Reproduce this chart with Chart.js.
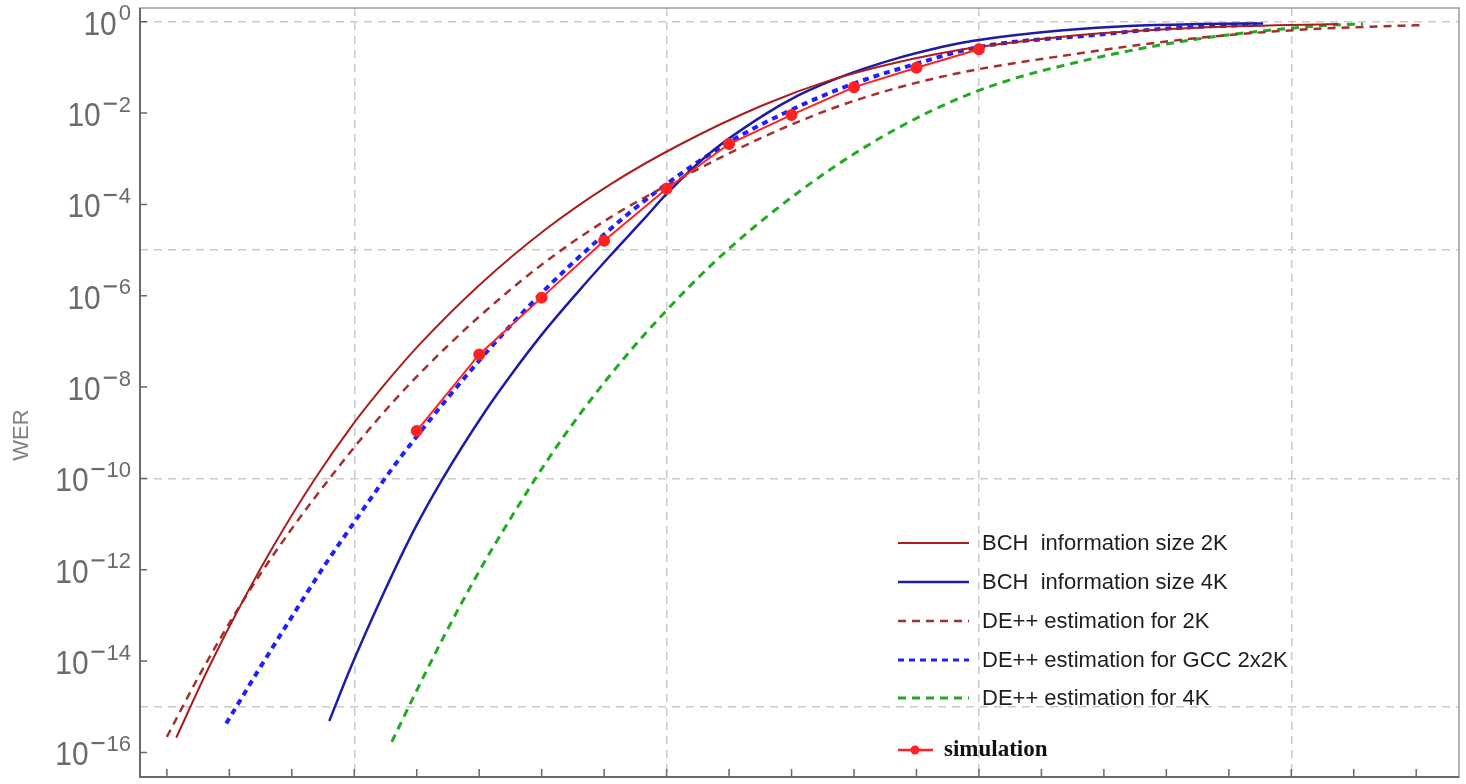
<!DOCTYPE html>
<html lang="en">
<head>
<meta charset="UTF-8">
<title>WER curves</title>
<script src="https://cdn.jsdelivr.net/npm/chart.js"></script>
<style>
  body { margin: 0; background: #fff; }
  #wrap { width: 1466px; height: 784px; }
</style>
</head>
<body>
<div id="wrap"><canvas id="werChart" width="1466" height="784"></canvas></div>
<script>
// x values are in grid units (the x tick labels are cut off in the source picture)
const bch2kX = [0.43, 0.53, 0.63, 0.74, 0.87, 0.99, 1.10, 1.21, 1.40, 1.61, 1.82, 2.04, 2.31, 2.53, 2.74, 2.95, 3.12, 3.38, 3.70, 4.15];
const bch2kWer = [2.1e-16, 6.3e-15, 1.4e-13, 3.2e-12, 8.9e-11, 1.35e-9, 1.2e-8, 8.7e-8, 1.7e-6, 2.75e-5, 2.75e-4, 2.0e-3, 1.5e-2, 5.4e-2, 0.13, 0.25, 0.36, 0.55, 0.74, 0.89];

const bch4kX = [0.92, 0.99, 1.08, 1.19, 1.28, 1.42, 1.51, 1.61, 1.72, 1.82, 1.93, 2.0, 2.14, 2.31, 2.42, 2.53, 2.63, 2.74, 2.85, 2.95, 3.12, 3.27, 3.48, 3.70, 3.91];
const bch4kWer = [4.9e-16, 7.6e-15, 1.9e-13, 7.1e-12, 9.1e-11, 3.0e-9, 2.2e-8, 1.7e-7, 1.3e-6, 7.6e-6, 5.0e-5, 1.7e-4, 1.35e-3, 8.9e-3, 2.4e-2, 5.2e-2, 9.3e-2, 0.16, 0.25, 0.35, 0.51, 0.65, 0.81, 0.89, 0.92];

const de2kX = [0.40, 0.51, 0.64, 0.78, 0.93, 1.06, 1.20, 1.40, 1.61, 1.82, 2.04, 2.31, 2.53, 2.74, 2.95, 3.12, 3.27, 3.48, 3.70, 3.91, 4.12, 4.43];
const de2kWer = [2.2e-16, 5.8e-15, 1.9e-13, 5.1e-12, 1.2e-10, 1.5e-9, 1.7e-8, 3.5e-7, 5.4e-6, 5.2e-5, 3.6e-4, 3.0e-3, 1.26e-2, 3.6e-2, 7.9e-2, 0.126, 0.18, 0.29, 0.44, 0.59, 0.72, 0.85];

const gccX = [0.59, 0.69, 0.80, 0.91, 1.0, 1.12, 1.20, 1.40, 1.59, 1.78, 1.95, 2.19, 2.39, 2.59, 2.79, 3.0, 3.38, 3.59, 3.89];
const gccWer = [4.3e-16, 5.8e-15, 9.3e-14, 1.4e-12, 1.1e-11, 1.6e-10, 8.3e-10, 3.8e-8, 9.8e-7, 1.66e-5, 1.55e-4, 2.1e-3, 1.1e-2, 4.2e-2, 0.115, 0.28, 0.52, 0.70, 0.88];

const de4kX = [1.12, 1.18, 1.29, 1.40, 1.51, 1.62, 1.73, 1.88, 2.0, 2.14, 2.31, 2.53, 2.74, 2.95, 3.12, 3.27, 3.48, 3.70, 3.91, 4.12, 4.23];
const de4kWer = [1.7e-16, 1.2e-15, 3.8e-14, 9.3e-13, 1.7e-11, 2.6e-10, 3.0e-9, 5.8e-8, 4.8e-7, 4.5e-6, 4.7e-5, 6.2e-4, 4.7e-3, 2.3e-2, 5.9e-2, 0.11, 0.23, 0.42, 0.63, 0.84, 0.89];

const simX = [1.2, 1.4, 1.6, 1.8, 2.0, 2.2, 2.4, 2.6, 2.8, 3.0];
const simWer = [1.1e-9, 5.2e-8, 9.1e-7, 1.6e-5, 2.2e-4, 2.1e-3, 9.1e-3, 3.7e-2, 9.8e-2, 0.25];

const seriesNames = [
  'BCH  information size 2K',
  'BCH  information size 4K',
  'DE++ estimation for 2K',
  'DE++ estimation for GCC 2x2K',
  'DE++ estimation for 4K',
  'simulation'
];

const yLabelExps = [0, -2, -4, -6, -8, -10, -12, -14, -16];
const yGridValues = [1, 1e-5, 1e-10, 1e-15];
const xGridValues = [1, 2, 3, 4];
const xTickValues = [0.4, 0.6, 0.8, 1.0, 1.2, 1.4, 1.6, 1.8, 2.0, 2.2, 2.4, 2.6, 2.8, 3.0, 3.2, 3.4, 3.6, 3.8, 4.0, 4.2, 4.4];

const toPoints = (xs, ys) => xs.map((x, i) => ({ x: x, y: ys[i] }));

const curve = (label, xs, ys, color, width, dash) => ({
  label: label,
  data: toPoints(xs, ys),
  borderColor: color,
  backgroundColor: color,
  borderWidth: width,
  borderDash: dash,
  pointRadius: 0,
  cubicInterpolationMode: 'monotone',
  order: 2
});

const datasets = [
  curve(seriesNames[0], bch2kX, bch2kWer, '#a81e1e', 2, []),
  curve(seriesNames[1], bch4kX, bch4kWer, '#1c1ca6', 2.5, []),
  curve(seriesNames[2], de2kX, de2kWer, '#a3302f', 2.5, [8, 6]),
  curve(seriesNames[3], gccX, gccWer, '#1f1fff', 4, [6, 5]),
  curve(seriesNames[4], de4kX, de4kWer, '#22aa22', 3, [8, 6]),
  {
    label: seriesNames[5],
    data: toPoints(simX, simWer),
    borderColor: '#ff2222',
    backgroundColor: '#ff2222',
    borderWidth: 2,
    pointRadius: 5,
    pointHoverRadius: 5,
    tension: 0,
    order: 0
  }
];

// frame, inward tick marks, y labels with exponents, axis title and the inset legend
const decor = {
  id: 'decor',
  afterDraw(chart) {
    const { ctx, chartArea: a, scales: { x, y } } = chart;
    ctx.save();

    ctx.strokeStyle = '#9a9a9a';
    ctx.lineWidth = 1.5;
    ctx.strokeRect(a.left, a.top, a.right - a.left, a.bottom - a.top);
    ctx.strokeStyle = '#6a6a6a';
    ctx.lineWidth = 2;
    ctx.beginPath();
    ctx.moveTo(a.left, a.top);
    ctx.lineTo(a.left, a.bottom);
    ctx.lineTo(a.right, a.bottom);
    ctx.stroke();

    ctx.lineWidth = 1.5;
    ctx.beginPath();
    yLabelExps.forEach(e => {
      const py = y.getPixelForValue(Math.pow(10, e));
      ctx.moveTo(a.left, py);
      ctx.lineTo(a.left + 7, py);
    });
    xTickValues.forEach(v => {
      const px = x.getPixelForValue(v);
      ctx.moveTo(px, a.bottom);
      ctx.lineTo(px, a.bottom - 8);
    });
    ctx.stroke();

    // y tick labels: 10 with a raised exponent (long minus like the source)
    ctx.fillStyle = '#6b6b6b';
    ctx.textBaseline = 'alphabetic';
    yLabelExps.forEach(e => {
      const py = y.getPixelForValue(Math.pow(10, e));
      const right = a.left - 9;
      const digits = String(Math.abs(e));
      ctx.font = '22px "Liberation Sans", Arial, sans-serif';
      ctx.textAlign = 'right';
      const wd = ctx.measureText(digits).width;
      ctx.fillText(digits, right, py - 1.5);
      let left = right - wd;
      if (e !== 0) {
        ctx.fillRect(left - 15, py - 10.5, 13, 2.2);
        left -= 16;
      }
      ctx.save();
      ctx.translate(left - 2, py + 13);
      ctx.scale(0.88, 1);
      ctx.font = '34px "Liberation Sans", Arial, sans-serif';
      ctx.fillText('10', 0, 0);
      ctx.restore();
    });

    ctx.save();
    ctx.translate(22, 435);
    ctx.rotate(-Math.PI / 2);
    ctx.textAlign = 'center';
    ctx.textBaseline = 'middle';
    ctx.font = '22px "Liberation Sans", Arial, sans-serif';
    ctx.fillStyle = '#808080';
    ctx.fillText('WER', 0, 0);
    ctx.restore();

    // legend inside the plot
    const rowY = [543, 582, 621, 660, 698];
    ctx.textAlign = 'left';
    ctx.textBaseline = 'middle';
    ctx.fillStyle = '#1e1e1e';
    ctx.font = '22px "Liberation Sans", Arial, sans-serif';
    rowY.forEach((ry, i) => {
      const ds = chart.data.datasets[i];
      ctx.save();
      ctx.strokeStyle = ds.borderColor;
      ctx.lineWidth = Math.min(ds.borderWidth, 3);
      ctx.setLineDash(ds.borderDash);
      ctx.beginPath();
      ctx.moveTo(898, ry);
      ctx.lineTo(969, ry);
      ctx.stroke();
      ctx.restore();
      ctx.fillText(ds.label, 982, ry + 1);
    });
    const sim = chart.data.datasets[5];
    ctx.strokeStyle = sim.borderColor;
    ctx.lineWidth = 2.5;
    ctx.beginPath();
    ctx.moveTo(898, 750);
    ctx.lineTo(933, 750);
    ctx.stroke();
    ctx.fillStyle = sim.backgroundColor;
    ctx.beginPath();
    ctx.arc(915, 750, 4.5, 0, Math.PI * 2);
    ctx.fill();
    ctx.fillStyle = '#111';
    ctx.font = 'bold 23px "Liberation Serif", "Times New Roman", serif';
    ctx.fillText(sim.label, 944, 750);

    ctx.restore();
  }
};

const werChart = new Chart(document.getElementById('werChart'), {
  type: 'line',
  data: { datasets: datasets },
  options: {
    responsive: false,
    animation: false,
    layout: { padding: { left: 140, top: 8, right: 3, bottom: 5 } },
    plugins: {
      legend: { display: false },
      tooltip: { enabled: false }
    },
    scales: {
      x: {
        type: 'linear',
        min: 0.314,
        max: 4.537,
        afterBuildTicks: s => { s.ticks = xGridValues.map(v => ({ value: v })); },
        ticks: { display: false },
        grid: { color: '#c9c9c9', lineWidth: 1.5, drawTicks: false },
        border: { display: false, dash: [8, 6] }
      },
      y: {
        type: 'logarithmic',
        min: 2.9e-17,
        max: 2,
        afterBuildTicks: s => { s.ticks = yGridValues.map(v => ({ value: v })); },
        ticks: { display: false },
        grid: { color: '#c9c9c9', lineWidth: 1.5, drawTicks: false },
        border: { display: false, dash: [8, 6] }
      }
    }
  },
  plugins: [decor]
});
</script>
</body>
</html>
